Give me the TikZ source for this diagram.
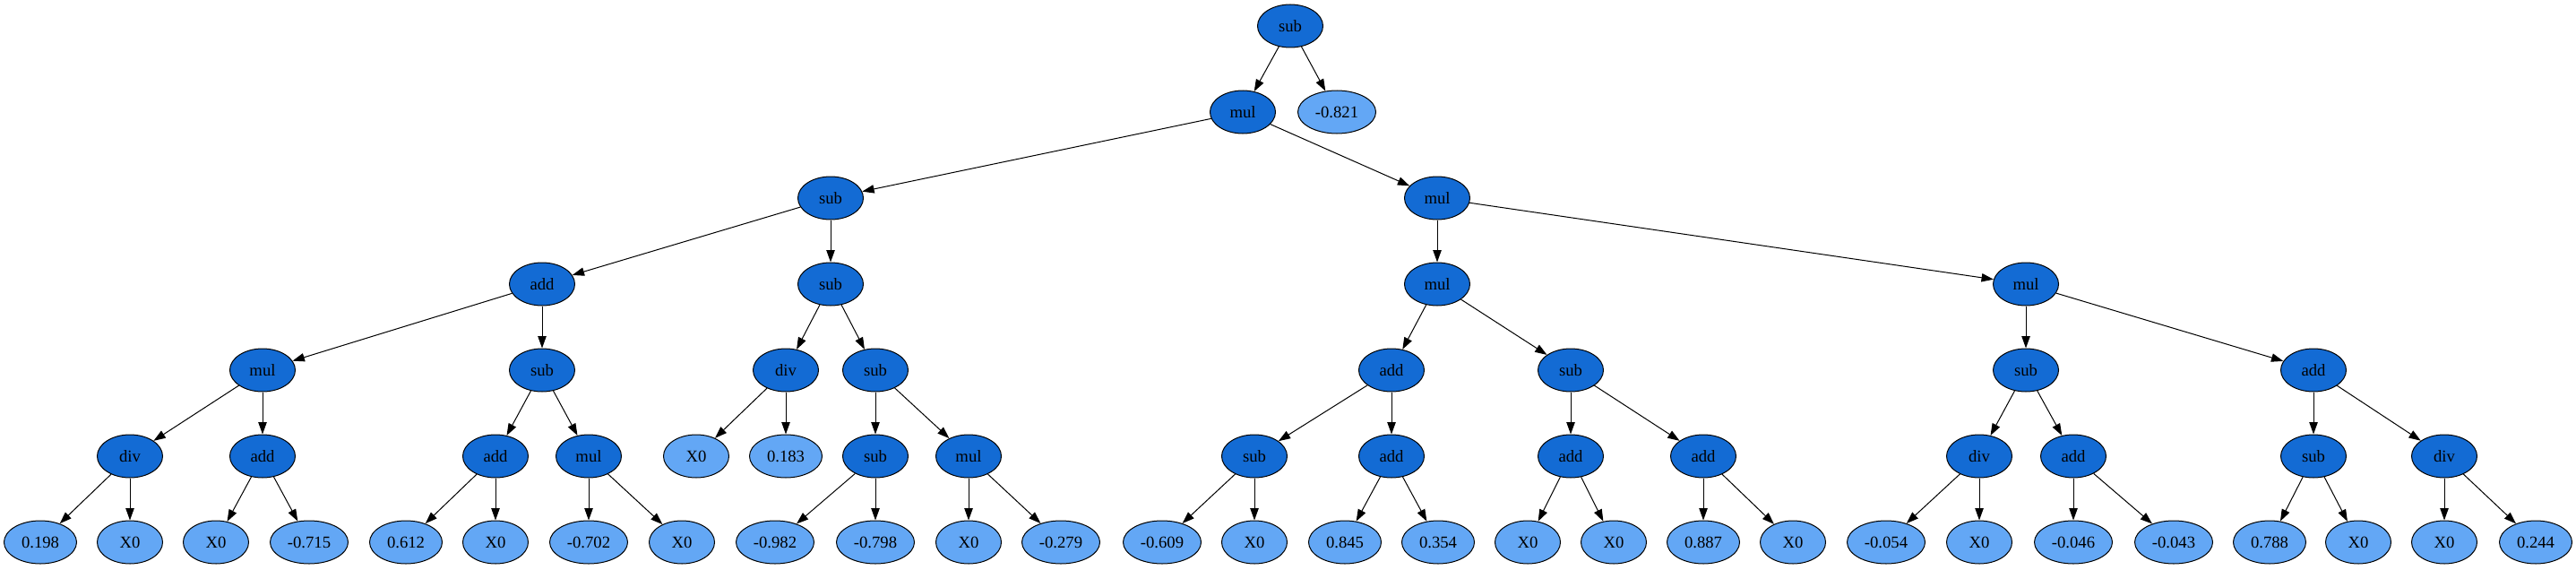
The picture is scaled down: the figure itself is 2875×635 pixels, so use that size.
\documentclass[tikz,border=0pt]{standalone}
\usepackage{fontspec}
\setmainfont{Liberation Serif}
\usetikzlibrary{shapes.geometric,arrows.meta}
\definecolor{opfill}{RGB}{19,107,212}
\definecolor{lffill}{RGB}{99,167,245}
\tikzset{
  base/.style={ellipse,draw=black,line width=0.75pt,inner sep=0pt,minimum height=36pt,font=\fontsize{14pt}{16pt}\selectfont},
  opn/.style={base,fill=opfill,minimum width=54.75pt},
  lf/.style={base,fill=lffill,minimum width=54.75pt},
  lfp/.style={base,fill=lffill,minimum width=60.75pt},
  lfn/.style={base,fill=lffill,minimum width=65.25pt},
  edge/.style={draw=black,line width=0.75pt,-{Triangle[length=10pt,width=7pt]}}
}
\begin{document}
\begin{tikzpicture}[x=0.75pt,y=-0.75pt]
\useasboundingbox (0,0) rectangle (2875,635);
% level 0-1
\node[opn] (n0) at (1440,29) {sub};
\node[opn] (n1) at (1387,125) {mul};
\node[lfn] (n2) at (1492,125) {-0.821};
% level 2
\node[opn] (n3) at (927,221) {sub};
\node[opn] (n4) at (1604,221) {mul};
% level 3
\node[opn] (n5) at (605,317) {add};
\node[opn] (n6) at (927,317) {sub};
\node[opn] (n7) at (1604,317) {mul};
\node[opn] (n8) at (2261,317) {mul};
% level 4
\node[opn] (n9) at (293,413) {mul};
\node[opn] (n10) at (605,413) {sub};
\node[opn] (n11) at (877,413) {div};
\node[opn] (n12) at (977,413) {sub};
\node[opn] (n13) at (1553,413) {add};
\node[opn] (n14) at (1753,413) {sub};
\node[opn] (n15) at (2261,413) {sub};
\node[opn] (n16) at (2582,413) {add};
% level 5
\node[opn] (n17) at (145,509) {div};
\node[opn] (n18) at (293,509) {add};
\node[opn] (n19) at (553,509) {add};
\node[opn] (n20) at (657,509) {mul};
\node[lf]  (n31) at (777,509) {X0};
\node[lfp] (n32) at (877,509) {0.183};
\node[opn] (n21) at (977,509) {sub};
\node[opn] (n22) at (1081,509) {mul};
\node[opn] (n23) at (1400,509) {sub};
\node[opn] (n24) at (1553,509) {add};
\node[opn] (n25) at (1753,509) {add};
\node[opn] (n26) at (1901,509) {add};
\node[opn] (n27) at (2209,509) {div};
\node[opn] (n28) at (2314,509) {add};
\node[opn] (n29) at (2582,509) {sub};
\node[opn] (n30) at (2728,509) {div};
% level 6
\node[lfp] (l1) at (45,605) {0.198};
\node[lf]  (l2) at (145,605) {X0};
\node[lf]  (l3) at (241,605) {X0};
\node[lfn] (l4) at (345,605) {-0.715};
\node[lfp] (l5) at (453,605) {0.612};
\node[lf]  (l6) at (553,605) {X0};
\node[lfn] (l7) at (657,605) {-0.702};
\node[lf]  (l8) at (761,605) {X0};
\node[lfn] (l9) at (865,605) {-0.982};
\node[lfn] (l10) at (977,605) {-0.798};
\node[lf]  (l11) at (1081,605) {X0};
\node[lfn] (l12) at (1184,605) {-0.279};
\node[lfn] (l13) at (1297,605) {-0.609};
\node[lf]  (l14) at (1400,605) {X0};
\node[lfp] (l15) at (1501,605) {0.845};
\node[lfp] (l16) at (1605,605) {0.354};
\node[lf]  (l17) at (1705,605) {X0};
\node[lf]  (l18) at (1801,605) {X0};
\node[lfp] (l19) at (1901,605) {0.887};
\node[lf]  (l20) at (2001,605) {X0};
\node[lfn] (l21) at (2105,605) {-0.054};
\node[lf]  (l22) at (2209,605) {X0};
\node[lfn] (l23) at (2314,605) {-0.046};
\node[lfn] (l24) at (2426,605) {-0.043};
\node[lfp] (l25) at (2533,605) {0.788};
\node[lf]  (l26) at (2632,605) {X0};
\node[lf]  (l27) at (2728,605) {X0};
\node[lfp] (l28) at (2830,605) {0.244};
% edges
\foreach \a/\b in {n0/n1,n0/n2,n1/n3,n1/n4,n3/n5,n3/n6,n4/n7,n4/n8,
  n5/n9,n5/n10,n6/n11,n6/n12,n7/n13,n7/n14,n8/n15,n8/n16,
  n9/n17,n9/n18,n10/n19,n10/n20,n11/n31,n11/n32,n12/n21,n12/n22,
  n13/n23,n13/n24,n14/n25,n14/n26,n15/n27,n15/n28,n16/n29,n16/n30,
  n17/l1,n17/l2,n18/l3,n18/l4,n19/l5,n19/l6,n20/l7,n20/l8,
  n21/l9,n21/l10,n22/l11,n22/l12,n23/l13,n23/l14,n24/l15,n24/l16,
  n25/l17,n25/l18,n26/l19,n26/l20,n27/l21,n27/l22,n28/l23,n28/l24,
  n29/l25,n29/l26,n30/l27,n30/l28}
  \draw[edge] (\a) -- (\b);
\end{tikzpicture}
\end{document}
